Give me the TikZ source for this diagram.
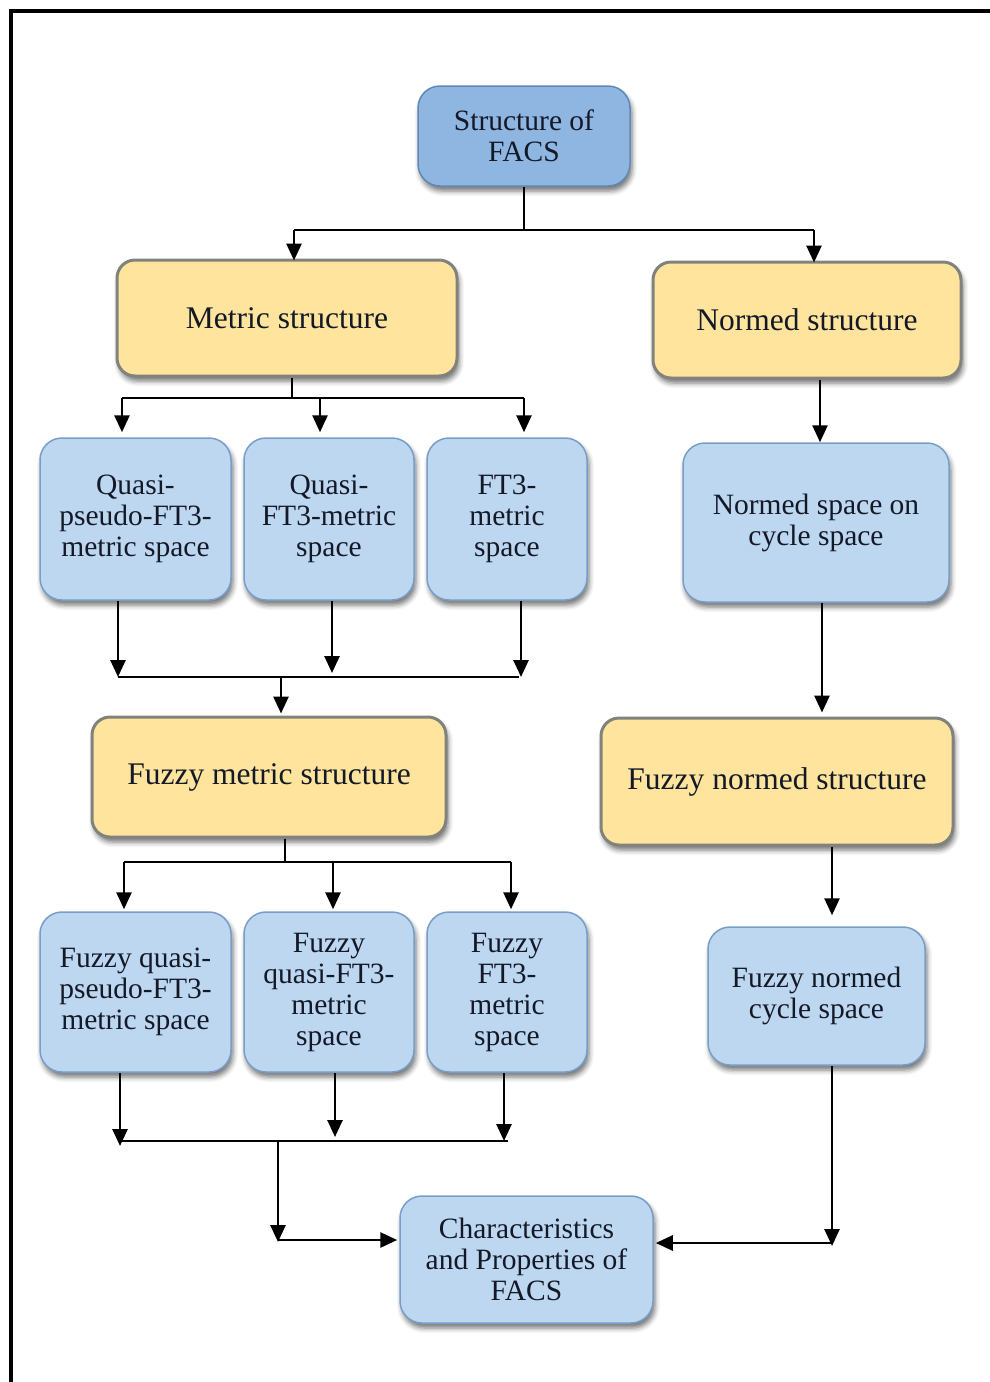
\documentclass[tikz,border=0pt]{standalone}
\usepackage{fontspec}
\setmainfont{Liberation Serif}
\usepackage{tikz}
\usetikzlibrary{arrows.meta,shadows.blur}
\definecolor{boxblue}{RGB}{189,215,240}
\definecolor{blueedge}{RGB}{120,158,200}
\definecolor{topblue}{RGB}{143,181,225}
\definecolor{topedge}{RGB}{98,135,182}
\definecolor{boxyellow}{RGB}{254,228,156}
\definecolor{yellowedge}{RGB}{130,130,125}
\definecolor{textdark}{RGB}{20,25,40}

\begin{document}
\begin{tikzpicture}[x=1pt,y=-1pt,
  boxshadow/.style={blur shadow={shadow xshift=2pt,shadow yshift=-5pt,shadow blur radius=5pt,shadow opacity=55}},
  bluebox/.style={draw=blueedge,line width=1.5pt,fill=boxblue,rounded corners=22pt,
    inner sep=0pt,align=center,text=textdark,font=\fontsize{29.5}{31}\selectfont,boxshadow},
  topbox/.style={bluebox,draw=topedge,fill=topblue},
  yellowbox/.style={draw=yellowedge,line width=3pt,fill=boxyellow,rounded corners=18pt,
    inner sep=0pt,align=center,text=textdark,font=\fontsize{31.5}{33}\selectfont,boxshadow},
  bus/.style={line width=1.6pt},
  arr/.style={line width=2.7pt,-{Triangle[length=17pt,width=15pt]}}]
\useasboundingbox (0,0) rectangle (989,1382);
\draw[line width=3.2pt] (1000,11) -- (11,11) -- (11,1400);

\node[topbox,minimum width=212,minimum height=100] (facs) at (524,136) {Structure of\\FACS};
\node[yellowbox,minimum width=340,minimum height=116] (metric) at (287,318) {Metric structure};
\node[yellowbox,minimum width=308,minimum height=116] (normed) at (807,320) {Normed structure};
\node[bluebox,minimum width=191,minimum height=162] (qpm) at (135.5,519) {Quasi-\\pseudo-FT3-\\metric space};
\node[bluebox,minimum width=170,minimum height=162] (qm) at (329,519) {Quasi-\\FT3-metric\\space};
\node[bluebox,minimum width=160,minimum height=162] (ftm) at (507,519) {FT3-\\metric\\space};
\node[bluebox,minimum width=266,minimum height=159] (nsc) at (816,522.5) {Normed space on\\cycle space};
\node[yellowbox,minimum width=354,minimum height=120] (fmetric) at (269,777) {Fuzzy metric structure};
\node[yellowbox,minimum width=352,minimum height=127] (fnormed) at (777,781.5) {Fuzzy normed structure};
\node[bluebox,minimum width=191,minimum height=160] (fqpm) at (135.5,992) {Fuzzy quasi-\\pseudo-FT3-\\metric space};
\node[bluebox,minimum width=170,minimum height=160] (fqm) at (329,992) {Fuzzy\\quasi-FT3-\\metric\\space};
\node[bluebox,minimum width=160,minimum height=160] (fftm) at (507,992) {Fuzzy\\FT3-\\metric\\space};
\node[bluebox,minimum width=217,minimum height=138] (fnc) at (816.5,996) {Fuzzy normed\\cycle space};
\node[bluebox,minimum width=253,minimum height=127] (charac) at (526.5,1259.5) {Characteristics\\and Properties of\\FACS};

\coordinate (t1) at (524,230);
\coordinate (t2) at (292,398);
\coordinate (t3) at (281,677);
\coordinate (t4) at (285,862);
\coordinate (t5) at (278,1141);
\coordinate (lc) at (278,1240);
\coordinate (rc) at (832,1243);

% top level
\draw[bus] (facs) -- (t1);
\draw[bus] ([xshift=7]metric.north |- t1) -- ([xshift=7]normed.north |- t1);
\draw[arr,shorten >=-2pt] ([xshift=7]metric.north |- t1) -- ([xshift=7]metric.north);
\draw[arr,shorten >=-2pt] ([xshift=7]normed.north |- t1) -- ([xshift=7]normed.north);

% metric branch
\draw[bus] (t2 |- metric.south) -- (t2);
\draw[bus] ([xshift=-13.5]qpm.north |- t2) -- ([xshift=17]ftm.north |- t2);
\draw[arr,shorten >=5pt] ([xshift=-13.5]qpm.north |- t2) -- ([xshift=-13.5]qpm.north);
\draw[arr,shorten >=5pt] ([xshift=-9]qm.north |- t2) -- ([xshift=-9]qm.north);
\draw[arr,shorten >=5pt] ([xshift=17]ftm.north |- t2) -- ([xshift=17]ftm.north);
\draw[arr] ([xshift=-17.5]qpm.south) -- ([xshift=-17.5]qpm.south |- t3);
\draw[arr,shorten >=4pt] ([xshift=3]qm.south) -- ([xshift=3]qm.south |- t3);
\draw[arr] ([xshift=14]ftm.south) -- ([xshift=14]ftm.south |- t3);
\draw[bus] ([xshift=-17.5]qpm.south |- t3) -- ([xshift=12]ftm.south |- t3);
\draw[arr,shorten >=2pt] (t3) -- (t3 |- fmetric.north);

% normed branch
\draw[arr] ([xshift=13]normed.south) -- ([xshift=13]normed.south |- nsc.north);
\draw[arr,shorten >=4pt] ([xshift=6]nsc.south) -- ([xshift=6]nsc.south |- fnormed.north);
\draw[arr,shorten >=11pt] ([xshift=55]fnormed.south) -- ([xshift=55]fnormed.south |- fnc.north);

% fuzzy metric branch
\draw[bus] (t4 |- fmetric.south) -- (t4);
\draw[bus] ([xshift=-11.5]fqpm.north |- t4) -- ([xshift=4]fftm.north |- t4);
\draw[arr,shorten >=2pt] ([xshift=-11.5]fqpm.north |- t4) -- ([xshift=-11.5]fqpm.north);
\draw[arr,shorten >=2pt] ([xshift=4]fqm.north |- t4) -- ([xshift=4]fqm.north);
\draw[arr,shorten >=2pt] ([xshift=4]fftm.north |- t4) -- ([xshift=4]fftm.north);
\draw[arr,shorten >=-5pt] ([xshift=-15.5]fqpm.south) -- ([xshift=-15.5]fqpm.south |- t5);
\draw[arr,shorten >=4pt] ([xshift=6]fqm.south) -- ([xshift=6]fqm.south |- t5);
\draw[arr] ([xshift=-3]fftm.south) -- ([xshift=-3]fftm.south |- t5);
\draw[bus] ([xshift=-15.5]fqpm.south |- t5) -- ([xshift=1]fftm.south |- t5);

% into the last box
\draw[arr,shorten >=-2pt] (t5) -- (lc);
\draw[arr,shorten >=2pt] (lc) -- (lc -| charac.west);
\draw[arr,shorten >=-3pt] ([xshift=15.5]fnc.south) -- (rc);
\draw[arr,shorten >=2pt] (rc) -- (rc -| charac.east);
\end{tikzpicture}
\end{document}
